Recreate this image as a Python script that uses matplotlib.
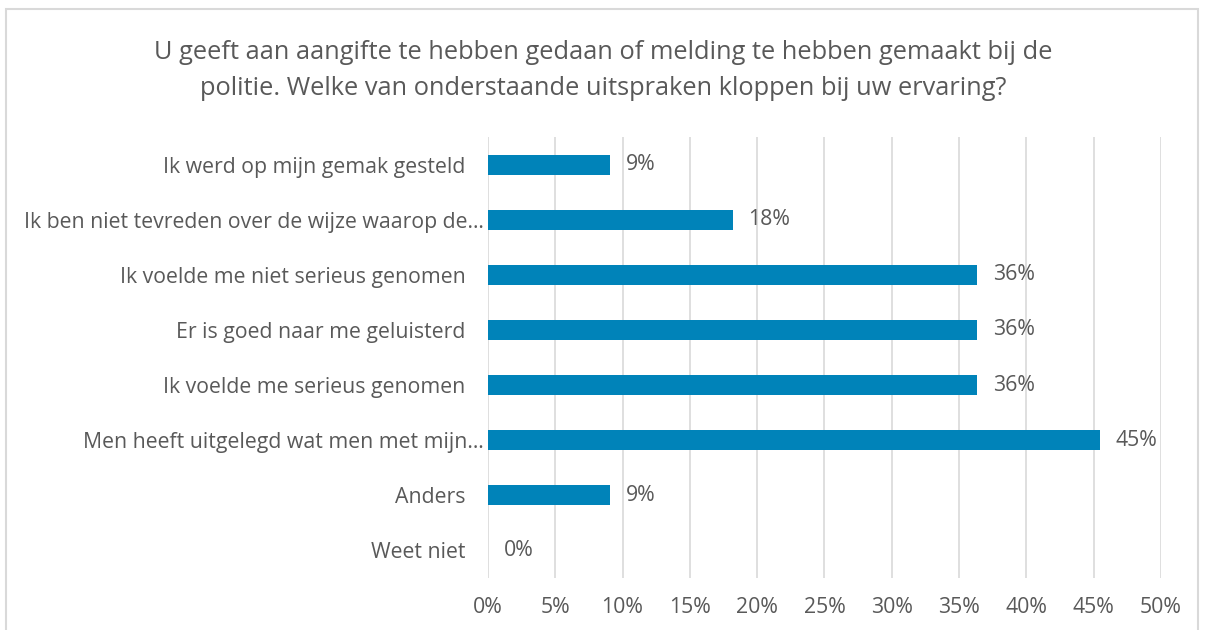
import numpy as np
import matplotlib.pyplot as plt
import matplotlib.transforms as mtransforms
from matplotlib.patches import Rectangle

categories = [
    "Ik werd op mijn gemak gesteld",
    "Ik ben niet tevreden over de wijze waarop de…",
    "Ik voelde me niet serieus genomen",
    "Er is goed naar me geluisterd",
    "Ik voelde me serieus genomen",
    "Men heeft uitgelegd wat men met mijn…",
    "Anders",
    "Weet niet",
]
values = [9.09, 18.18, 36.36, 36.36, 36.36, 45.45, 9.09, 0.0]
labels = ["9%", "18%", "36%", "36%", "36%", "45%", "9%", "0%"]
xticks = [0, 5, 10, 15, 20, 25, 30, 35, 40, 45, 50]

plt.rcParams['font.family'] = ['Open Sans', 'DejaVu Sans']
txt = '#595959'
fs = 15.3

fig = plt.figure(figsize=(12.06, 6.3), dpi=100)
ax = fig.add_axes([0.4046, 0.0825, 0.5581, 0.7])

# chart border
fig.patches.append(Rectangle((6 / 1206, -0.01), 1192 / 1206, 1 - 9 / 630 + 0.01,
                             transform=fig.transFigure, fill=False,
                             edgecolor='#d9d9d9', linewidth=1.5))

y = np.arange(len(categories))
ax.barh(y, values, height=0.36, color='#0083b9', zorder=3)
for yi, v, lab in zip(y, values, labels):
    ax.text(v + 1.15, yi, lab, va='center', ha='left', fontsize=fs, color=txt)

ax.set_yticks(y)
ax.set_yticklabels(categories, fontsize=fs, color=txt)
ax.set_ylim(len(categories) - 0.5, -0.5)
ax.set_xlim(0, 50)
ax.set_xticks(xticks)
ax.set_xticklabels([f"{t}%" for t in xticks], fontsize=fs, color=txt)
ax.xaxis.grid(True, color='#d9d9d9', linewidth=1.2, zorder=0)
ax.tick_params(axis='both', length=0)
ax.tick_params(axis='y', pad=16)
ax.tick_params(axis='x', pad=14)
for s in ax.spines.values():
    s.set_visible(False)

# truncated labels overflow towards the axis, like in the original
for lbl in ax.get_yticklabels():
    if lbl.get_text().endswith("…"):
        lbl.set_transform(lbl.get_transform() +
                          mtransforms.ScaledTranslation(0.18, 0, fig.dpi_scale_trans))

fig.text(0.5, 0.888, "U geeft aan aangifte te hebben gedaan of melding te hebben gemaakt bij de\n"
         "politie. Welke van onderstaande uitspraken kloppen bij uw ervaring?",
         ha='center', va='center', fontsize=18.3, color=txt, linespacing=1.6)

fig.savefig('out.png', dpi=100)
